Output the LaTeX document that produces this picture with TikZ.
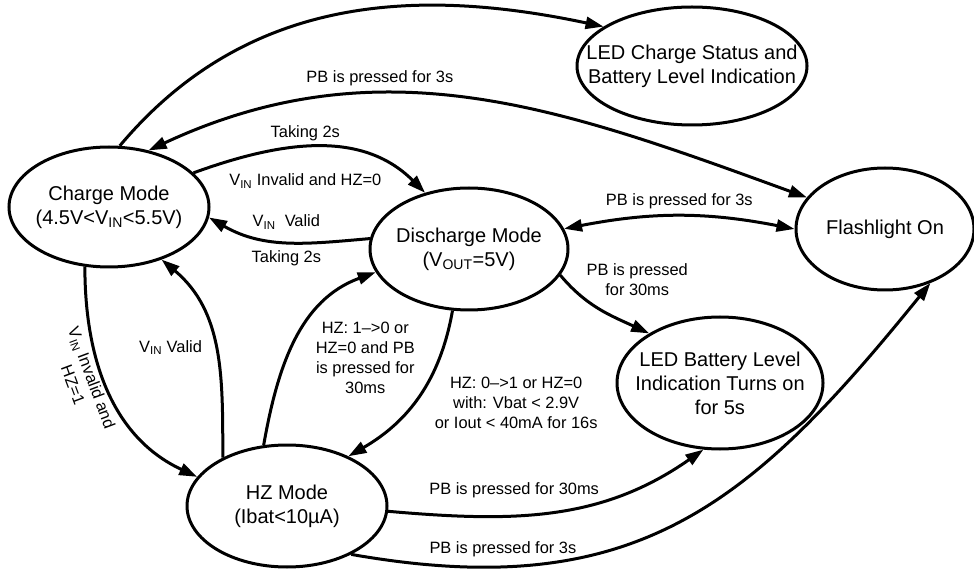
\documentclass[tikz,border=0pt]{standalone}
\usepackage{fontspec}
\setmainfont{Liberation Sans}
\usetikzlibrary{arrows.meta,shapes.geometric}

\begin{document}
\begin{tikzpicture}[
  x=1pt, y=1pt, line width=3pt,
  state/.style={draw, ellipse, inner sep=0pt, align=center,
    font=\fontsize{20}{24}\selectfont},
  lbl/.style={inner sep=1pt, align=center, font=\fontsize{16.4}{20}\selectfont},
  go/.style={-{Triangle[length=18pt,width=12pt]}},
  both/.style={{Triangle[length=18pt,width=12pt]}-{Triangle[length=18pt,width=12pt]}}
]
  \useasboundingbox (0,0) rectangle (974,568);

  \node[state, minimum width=200pt, minimum height=120pt, inner xsep=-3pt] (charge) at (109,361)
    {Charge Mode\\(4.5V<V\textsubscript{IN}<5.5V)};
  \node[state, minimum width=198pt, minimum height=122pt, inner xsep=-3pt] (discharge) at (469,319)
    {Discharge Mode\\(V\textsubscript{OUT}=5V)};
  \node[state, minimum width=230pt, minimum height=118pt, inner xsep=-30pt] (ledchg) at (692,502)
    {LED Charge Status and\\Battery Level Indication};
  \node[state, minimum width=178pt, minimum height=122pt] (flash) at (885,339)
    {Flashlight On};
  \node[state, minimum width=206pt, minimum height=132pt, inner xsep=-15pt] (ledbat) at (720,185)
    {LED Battery Level\\Indication Turns on\\for 5s};
  \node[state, minimum width=200pt, minimum height=122pt] (hz) at (287,62)
    {HZ Mode\\(Ibat<10µA)};

  \draw[go] (charge.80) to[out=50, in=168] (ledchg.156);
  \draw[both] (charge.55) to[out=25, in=160]
    node[lbl, pos=0.35, above=6pt] (lPBtop) {PB is pressed for 3s} (flash.158);
  \draw[go] (charge.22) to[out=20, in=135]
    node[lbl, pos=0.45, above=3.5pt] (lTake1) {Taking 2s}
    node[lbl, pos=0.45, below=24pt] (lInv0) {V\textsubscript{IN} Invalid and HZ=0} (discharge.128);
  \draw[go] (discharge.174) to[out=185, in=-30]
    node[lbl, pos=0.5, above=10.5pt] (lValid1) {V\textsubscript{IN}\ \ Valid}
    node[lbl, pos=0.5, below=6pt] (lTake2) {Taking 2s} (charge.354);
  \draw[both] (discharge.12) to[bend left=11]
    node[lbl, above=4.5pt] (lPBmid) {PB is pressed for 3s} (flash.west);
  \draw[go] (discharge.344) to[out=-50, in=155]
    node[lbl, pos=0.3, anchor=south west] (l30a) {PB is pressed\\for 30ms} (ledbat.145);
  \draw[go] (charge.248) to[out=270, in=155]
    node[lbl, pos=0.42, sloped, below=2pt] (lInv1) {V\textsubscript{IN} Invalid and\\HZ=1} (hz.162);
  \draw[go] (hz.143) to[out=90, in=-40]
    node[lbl, pos=0.5, left=11pt] (lValid2) {V\textsubscript{IN} Valid} (charge.315);
  \draw[go] (hz.111) to[out=80, in=200]
    node[lbl, pos=0.4, right=26pt] (lHZ10) {HZ: 1–>0 or\\HZ=0 and PB\\is pressed for\\30ms} (discharge.194);
  \draw[go] (discharge.255) to[out=260, in=30]
    node[lbl, pos=0.55, right=19pt] (lHZ01) {HZ: 0–>1 or HZ=0\\with: Vbat < 2.9V\\or Iout < 40mA for 16s} (hz.39);
  \draw[go] (hz.-3) to[out=-5, in=215]
    node[lbl, pos=0.37, above=15pt] (l30b) {PB is pressed for 30ms} (ledbat.256);
  \draw[go] (hz.323) to[out=-10, in=231, looseness=1.15]
    node[lbl, pos=0.2, above=7.5pt] (l3b) {PB is pressed for 3s} (flash.310);
\end{tikzpicture}
\end{document}
